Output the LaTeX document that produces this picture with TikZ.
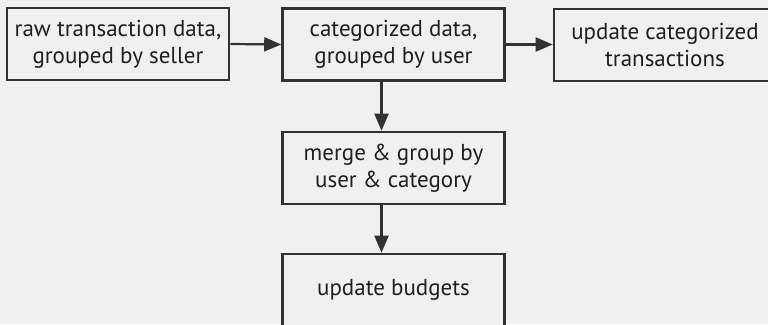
\documentclass[tikz,border=0pt]{standalone}
\usepackage{fontspec}
\setmainfont{PT Sans}
\usetikzlibrary{arrows.meta}
\definecolor{bg}{RGB}{240,240,240}
\definecolor{ink}{RGB}{50,50,50}
\tikzset{
  box/.style={draw=ink, line width=2.6pt, fill=bg, minimum width=222pt, minimum height=72pt,
    align=center, inner sep=0pt, text=black!88, font=\fontsize{23}{27}\selectfont},
  conn/.style={draw=ink, line width=2.2pt, -{Triangle[length=17pt,width=14pt]}}
}
\begin{document}
\begin{tikzpicture}[x=1pt,y=-1pt]
\fill[bg] (0,0) rectangle (768,324);
\useasboundingbox (0,0) rectangle (768,324);
\clip (0,0) rectangle (768,324);
\node[box] (b1) at (118,44) {raw transaction data,\\grouped by seller};
\node[box] (b2) at (393.5,44.5) {categorized data,\\grouped by user};
\node[box] (b3) at (665,45) {update categorized\\transactions};
\node[box] (b4) at (393.5,168) {merge \& group by\\user \& category};
\node[box] (b5) at (393.5,290) {update budgets};
\draw[conn] (b1.east) -- (b2.west);
\draw[conn] (b2.east) -- (b3.west |- b2.east);
\draw[conn] ([xshift=-12pt]b2.south) -- ([xshift=-12pt]b4.north);
\draw[conn] ([xshift=-12pt]b4.south) -- ([xshift=-12pt]b5.north);
\end{tikzpicture}
\end{document}
